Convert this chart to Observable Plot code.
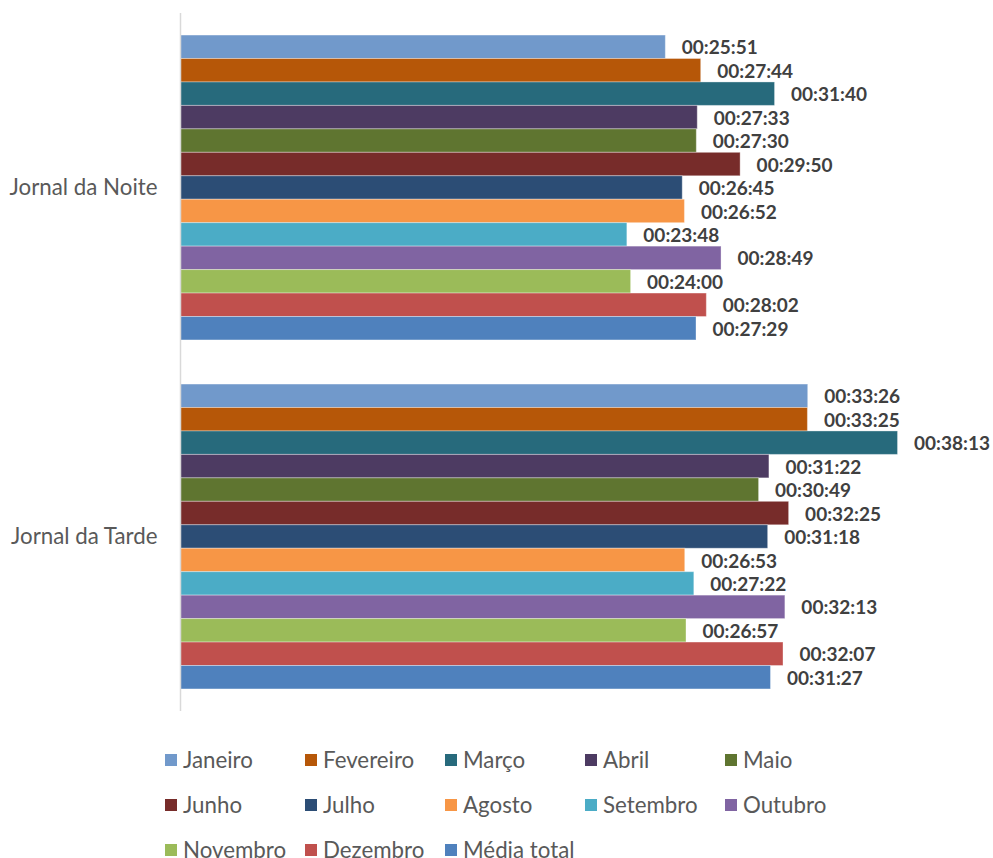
<!DOCTYPE html>
<html>
<head>
<meta charset="utf-8">
<script src="https://cdn.jsdelivr.net/npm/d3@7"></script>
<script src="https://cdn.jsdelivr.net/npm/@observablehq/plot@0.6"></script>
<style>
  body { margin: 0; background: #fff; font-family: Lato, "Open Sans", sans-serif; }
  #legend { display: grid; grid-template-columns: repeat(5, 140px); margin-left: 165px; padding-top: 6px; }
  .item { height: 45px; display: flex; align-items: center; font-size: 22.3px; color: #595959; white-space: nowrap; }
  .sw { width: 12px; height: 12px; margin-right: 6px; flex: none; }
</style>
</head>
<body>
<div id="chart"></div>
<div id="legend"></div>
<script>
const groups = ["Jornal da Noite", "Jornal da Tarde"];
const months = ["Janeiro", "Fevereiro", "Março", "Abril", "Maio", "Junho", "Julho", "Agosto", "Setembro", "Outubro", "Novembro", "Dezembro", "Média total"];
const colors = ["#7199CB", "#B65708", "#276A7C", "#4D3B62", "#5F7530", "#772C2A", "#2C4D75", "#F79646", "#4BACC6", "#8064A2", "#9BBB59", "#C0504D", "#4F81BD"];
const noite = ["00:25:51", "00:27:44", "00:31:40", "00:27:33", "00:27:30", "00:29:50", "00:26:45", "00:26:52", "00:23:48", "00:28:49", "00:24:00", "00:28:02", "00:27:29"];
const tarde = ["00:33:26", "00:33:25", "00:38:13", "00:31:22", "00:30:49", "00:32:25", "00:31:18", "00:26:53", "00:27:22", "00:32:13", "00:26:57", "00:32:07", "00:31:27"];

const toSec = s => { const [h, m, x] = s.split(":").map(Number); return h * 3600 + m * 60 + x; };
const rows = [];
[noite, tarde].forEach((arr, gi) => arr.forEach((t, i) => rows.push({group: groups[gi], month: months[i], label: t, value: toSec(t)})));

const chart = Plot.plot({
  width: 993,
  height: 731,
  marginLeft: 180,
  marginRight: 62,
  marginTop: 13,
  marginBottom: 20,
  style: {fontFamily: "Lato, 'Open Sans', sans-serif", background: "#fff"},
  x: {domain: [0, 2400], axis: null},
  y: {domain: months, paddingInner: 0, paddingOuter: 0.94, round: false, axis: null},
  fy: {domain: groups, padding: 0, round: false, label: null},
  color: {domain: months, range: colors},
  marks: [
    Plot.barX(rows, {x: "value", y: "month", fy: "group", fill: "month", stroke: "#ffffff", strokeOpacity: 0.35, strokeWidth: 1}),
    Plot.text(rows, {x: "value", y: "month", fy: "group", text: "label", textAnchor: "start", dx: 16, dy: 1, fontWeight: "bold", fontSize: 19, fill: "#404040"}),
    Plot.ruleX([0], {stroke: "#d9d9d9", strokeWidth: 1.5}),
    Plot.axisFy({anchor: "left", tickSize: 0, tickPadding: 23, fontSize: 22.3, color: "#595959", label: null})
  ]
});
document.getElementById("chart").appendChild(chart);

const legend = document.getElementById("legend");
months.forEach((m, i) => {
  const d = document.createElement("div");
  d.className = "item";
  d.innerHTML = `<span class="sw" style="background:${colors[i]}"></span>${m}`;
  legend.appendChild(d);
});
</script>
</body>
</html>
